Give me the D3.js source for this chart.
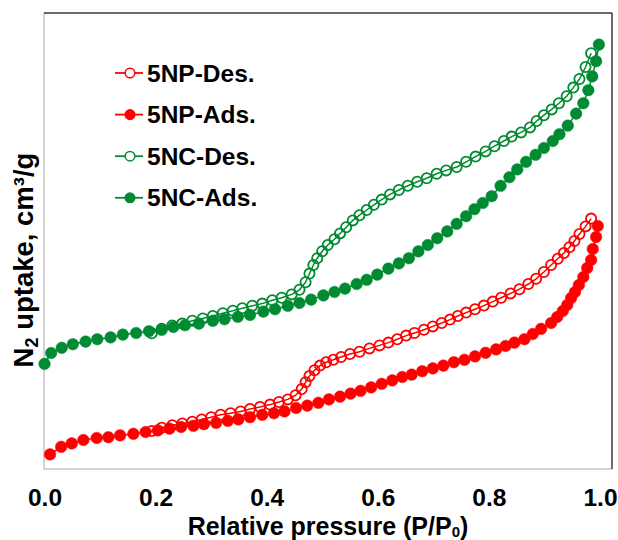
<!DOCTYPE html>
<html>
<head>
<meta charset="utf-8">
<script src="https://cdn.jsdelivr.net/npm/d3@7"></script>
<style>
  html, body { margin: 0; padding: 0; background: #fff; }
  svg { display: block; font-family: "Liberation Sans", Arial, sans-serif; }
</style>
</head>
<body>
<svg id="chart" width="618" height="540"></svg>
<script>
// N2 physisorption isotherms: relative pressure P/P0 vs. uptake (cm3/g)
const xTicks = [0, 0.2, 0.4, 0.6, 0.8, 1.0];

const seriesNames = ["5NP-Des.", "5NP-Ads.", "5NC-Des.", "5NC-Ads."];
const seriesColors = ["#ff0000", "#ff0000", "#008a32", "#008a32"];
const seriesFilled = [false, true, false, true];

// 5NP desorption branch
const npDesP = [0.193,0.211,0.230,0.248,0.266,0.283,0.300,0.317,0.335,0.353,0.370,0.388,0.406,0.422,0.438,0.452,0.463,0.470,0.477,0.486,0.496,0.507,0.520,0.534,0.550,0.567,0.585,0.603,0.619,0.635,0.651,0.666,0.683,0.699,0.715,0.730,0.744,0.759,0.775,0.791,0.807,0.822,0.839,0.855,0.871,0.885,0.899,0.912,0.924,0.935,0.945,0.954,0.963,0.974,0.984];
const npDesV = [19.0,20.6,21.9,22.8,23.6,24.8,25.9,27.1,27.9,28.8,30.0,31.0,32.2,33.5,34.8,36.9,40.0,43.4,46.5,49.4,51.7,53.4,54.6,56.0,57.5,58.6,60.3,61.8,63.2,64.9,66.7,68.0,69.6,71.3,73.0,74.7,76.5,78.2,79.9,81.7,83.7,85.6,87.8,89.9,92.5,95.1,98.5,102.0,105.1,108.0,110.9,114.0,117.5,121.3,125.2];

// 5NP adsorption branch
const npAdsP = [0.010,0.030,0.049,0.070,0.094,0.115,0.136,0.160,0.182,0.204,0.225,0.246,0.268,0.287,0.309,0.330,0.349,0.370,0.392,0.413,0.432,0.453,0.473,0.493,0.512,0.532,0.551,0.569,0.588,0.607,0.626,0.644,0.661,0.680,0.699,0.718,0.737,0.756,0.775,0.794,0.813,0.830,0.846,0.864,0.879,0.894,0.912,0.923,0.933,0.941,0.948,0.955,0.962,0.970,0.977,0.984,0.987,0.993,0.996];
const npAdsV = [7.3,11.1,12.8,14.5,15.5,15.9,16.8,17.6,18.5,19.3,20.2,21.0,21.6,22.4,23.1,24.1,24.8,25.9,27.1,27.9,28.8,30.5,31.7,33.1,34.8,36.2,37.7,39.1,40.8,42.6,44.3,46.0,47.2,48.9,50.3,51.7,53.4,54.6,56.3,58.1,59.8,61.5,63.2,64.9,67.5,70.1,73.0,76.0,79.0,82.0,85.5,88.5,92.0,96.0,100.5,104.5,110.0,116.0,121.5];

// 5NC desorption branch
const ncDesP = [0.193,0.211,0.230,0.248,0.266,0.285,0.303,0.321,0.339,0.356,0.374,0.392,0.410,0.427,0.445,0.459,0.470,0.477,0.484,0.491,0.500,0.510,0.522,0.532,0.543,0.555,0.567,0.580,0.593,0.607,0.622,0.638,0.654,0.671,0.688,0.706,0.723,0.742,0.759,0.776,0.794,0.810,0.827,0.841,0.858,0.874,0.886,0.899,0.913,0.926,0.940,0.952,0.963,0.974,0.984];
const ncDesV = [67.9,70.1,71.8,72.7,74.1,75.3,76.5,77.9,79.1,80.4,81.6,82.7,84.4,85.6,87.3,89.6,93.4,97.7,102.0,105.4,108.9,112.0,114.9,117.8,120.9,124.3,126.9,129.5,132.1,134.7,137.3,139.5,141.6,143.6,145.4,147.6,149.3,151.0,153.6,156.2,158.8,161.4,164.0,166.2,168.3,170.8,174.0,176.9,179.8,182.9,186.4,190.7,195.0,201.0,207.9];

// 5NC adsorption branch
const ncAdsP = [0.000,0.012,0.031,0.051,0.074,0.095,0.119,0.141,0.165,0.188,0.211,0.232,0.253,0.278,0.303,0.324,0.348,0.370,0.394,0.415,0.438,0.459,0.480,0.502,0.522,0.541,0.562,0.580,0.599,0.619,0.638,0.656,0.673,0.690,0.707,0.725,0.742,0.759,0.774,0.789,0.805,0.821,0.837,0.851,0.867,0.884,0.899,0.915,0.927,0.942,0.957,0.970,0.979,0.986,0.993,0.998];
const ncAdsV = [52.6,58.0,60.6,62.4,63.7,64.9,65.8,67.2,68.0,68.9,69.6,71.0,71.9,72.7,74.1,74.9,76.1,77.0,78.7,79.9,81.6,83.0,84.7,86.8,88.5,90.2,92.5,94.6,97.2,100.2,102.8,105.4,108.8,112.0,115.4,118.8,122.6,126.4,129.9,133.0,136.4,141.6,145.9,149.8,153.6,157.1,160.5,164.0,167.4,171.7,177.7,182.9,189.4,196.3,203.9,212.2];

const seriesP = [npDesP, npAdsP, ncDesP, ncAdsP];
const seriesV = [npDesV, npAdsV, ncDesV, ncAdsV];

const svg = d3.select("#chart");
const frame = { left: 44, right: 612, top: 13, bottom: 469 };

const x = d3.scaleLinear().domain([0, 1]).range([44.5, 600]);
const y = d3.scaleLinear().domain([0, 228]).range([frame.bottom, frame.top]);

// plot frame: light left/bottom, dark top/right
svg.append("line").attr("x1", frame.left).attr("x2", frame.left)
  .attr("y1", frame.top).attr("y2", frame.bottom)
  .attr("stroke", "#c4c4c4").attr("stroke-width", 1.5);
svg.append("line").attr("x1", frame.left).attr("x2", frame.right)
  .attr("y1", frame.bottom).attr("y2", frame.bottom)
  .attr("stroke", "#c4c4c4").attr("stroke-width", 1.5);
svg.append("line").attr("x1", frame.left).attr("x2", frame.right)
  .attr("y1", frame.top).attr("y2", frame.top)
  .attr("stroke", "#3a3a3a").attr("stroke-width", 1.5);
svg.append("line").attr("x1", frame.right).attr("x2", frame.right)
  .attr("y1", frame.top).attr("y2", frame.bottom)
  .attr("stroke", "#3a3a3a").attr("stroke-width", 1.5);

// x axis tick labels
const xAxis = d3.axisBottom(x).tickValues(xTicks).tickSize(0).tickFormat(d3.format(".1f"));
const gx = svg.append("g").attr("transform", `translate(0,${frame.bottom})`).call(xAxis);
gx.select(".domain").remove();
gx.selectAll("text")
  .attr("y", 37).attr("dy", null)
  .attr("fill", "#000")
  .style("font-size", "24.5px").style("font-weight", "bold")
  .style("font-family", "'Liberation Sans', Arial, sans-serif");

// axis titles
const xTitle = svg.append("text")
  .attr("x", 328).attr("y", 534.5)
  .attr("text-anchor", "middle")
  .style("font-size", "25px").style("font-weight", "bold");
xTitle.append("tspan").text("Relative pressure (P/P");
xTitle.append("tspan").text("0").style("font-size", "15px").attr("dy", 2.5);
xTitle.append("tspan").text(")").attr("dy", -2.5);

const yTitle = svg.append("text")
  .attr("transform", "translate(33,260) rotate(-90)")
  .attr("text-anchor", "middle")
  .style("font-size", "27.5px").style("font-weight", "bold");
yTitle.append("tspan").text("N");
yTitle.append("tspan").text("2").style("font-size", "18px").attr("dy", 5);
yTitle.append("tspan").text(" uptake, cm³/g").attr("dy", -5);

// isotherm series: thin connecting line with circle markers
const line = d3.line().x(d => x(d[0])).y(d => y(d[1]));
seriesNames.forEach((name, i) => {
  const pts = seriesP[i].map((p, k) => [p, seriesV[i][k]]);
  const g = svg.append("g").attr("class", "series");
  g.append("path").datum(pts)
    .attr("d", line).attr("fill", "none")
    .attr("stroke", seriesColors[i]).attr("stroke-width", 1.5);
  g.selectAll("circle").data(pts).join("circle")
    .attr("cx", d => x(d[0])).attr("cy", d => y(d[1]))
    .attr("r", seriesFilled[i] ? 5.8 : 5.1)
    .attr("fill", seriesFilled[i] ? seriesColors[i] : "none")
    .attr("stroke", seriesColors[i])
    .attr("stroke-width", seriesFilled[i] ? 0.5 : 1.8);
});

// legend
const legend = svg.append("g");
seriesNames.forEach((name, i) => {
  const ly = 73 + i * 41.6;
  legend.append("line").attr("x1", 115).attr("x2", 143).attr("y1", ly).attr("y2", ly)
    .attr("stroke", seriesColors[i]).attr("stroke-width", 1.8);
  legend.append("circle").attr("cx", 130).attr("cy", ly).attr("r", 4.8)
    .attr("fill", seriesFilled[i] ? seriesColors[i] : "#fff")
    .attr("stroke", seriesColors[i]).attr("stroke-width", 1.5);
  legend.append("text").attr("x", 147).attr("y", ly + 8.5)
    .style("font-size", "24.5px").style("font-weight", "bold")
    .text(name);
});
</script>
</body>
</html>
